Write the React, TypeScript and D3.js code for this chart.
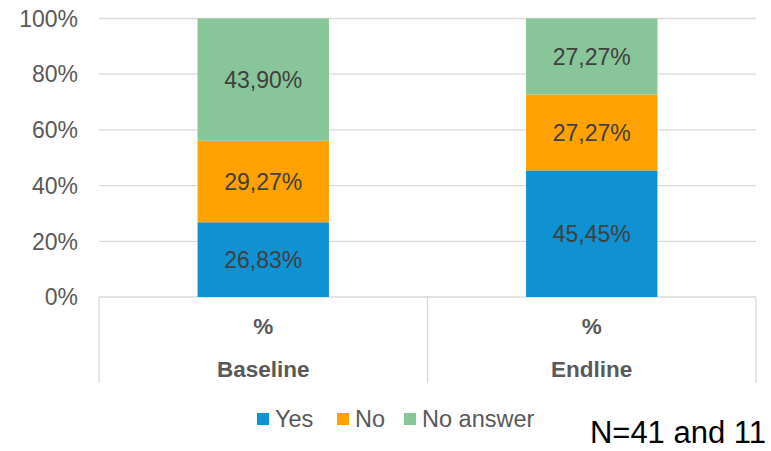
import React from "react";
import * as d3 from "d3";

const categories = ["Baseline", "Endline"];
const subLabels = ["%", "%"];
const seriesNames = ["Yes", "No", "No answer"];
const yesValues = [26.83, 45.45];
const noValues = [29.27, 27.27];
const noAnswerValues = [43.9, 27.27];
const yTicks = [0, 20, 40, 60, 80, 100];
const seriesColors = ["#0f91d2", "#ffa100", "#88c598"];
const footnote = "N=41 and 11";

const W = 771;
const H = 451;
const FONT = "'Liberation Sans', Arial, Helvetica, sans-serif";

export default function App() {
  const left = 99;
  const right = 756;
  const top = 18.5;
  const bottom = 297;

  const x = d3.scaleBand<string>().domain(categories).range([left, right]).padding(0);
  const y = d3.scaleLinear().domain([0, 100]).range([bottom, top]);
  const barW = x.bandwidth() * 0.4;

  const rows = categories.map((c, i) => ({
    cat: c,
    Yes: yesValues[i],
    No: noValues[i],
    "No answer": noAnswerValues[i],
  }));
  const stacked = d3.stack<any>().keys(seriesNames)(rows);

  const fmt = (v: number) => v.toFixed(2).replace(".", ",") + "%";

  // legend layout
  const legendItems = [
    { name: "Yes", x: 257 },
    { name: "No", x: 337 },
    { name: "No answer", x: 404 },
  ];

  return (
    <svg width={W} height={H} style={{ display: "block", position: "absolute", left: 0, top: 0 }}>
      <rect width={W} height={H} fill="#ffffff" />
      {/* gridlines */}
      {yTicks.map((t) => (
        <line
          key={"g" + t}
          x1={left}
          x2={right}
          y1={y(t)}
          y2={y(t)}
          stroke="#d9d9d9"
          strokeWidth={1.3}
        />
      ))}
      {/* category separators */}
      {[left, (x(categories[1]) as number), right].map((sx, i) => (
        <line key={"s" + i} x1={sx} x2={sx} y1={bottom} y2={383} stroke="#d9d9d9" strokeWidth={1.3} />
      ))}
      {/* y tick labels */}
      {yTicks.map((t) => (
        <text
          key={"t" + t}
          x={78}
          y={y(t)}
          dy="0.36em"
          textAnchor="end"
          fontFamily={FONT}
          fontSize={23}
          fill="#595959"
        >
          {t + "%"}
        </text>
      ))}
      {/* stacked bars */}
      {stacked.map((layer, si) => (
        <g key={layer.key}>
          {layer.map((d, i) => {
            const bx = (x(categories[i]) as number) + (x.bandwidth() - barW) / 2;
            const y0 = y(d[0]);
            const y1 = y(d[1]);
            return (
              <g key={i}>
                <rect x={bx} y={y1} width={barW} height={y0 - y1} fill={seriesColors[si]} />
                <text
                  x={bx + barW / 2}
                  y={(y0 + y1) / 2}
                  dy="0.36em"
                  textAnchor="middle"
                  fontFamily={FONT}
                  fontSize={23}
                  fill="#404040"
                >
                  {fmt(d[1] - d[0])}
                </text>
              </g>
            );
          })}
        </g>
      ))}
      {/* category labels */}
      {categories.map((c, i) => {
        const cx = (x(c) as number) + x.bandwidth() / 2;
        return (
          <g key={"c" + c}>
            <text x={cx} y={334} textAnchor="middle" fontFamily={FONT} fontSize={22.5} fontWeight="bold" fill="#595959">
              {subLabels[i]}
            </text>
            <text x={cx} y={377} textAnchor="middle" fontFamily={FONT} fontSize={22.5} fontWeight="bold" fill="#595959">
              {c}
            </text>
          </g>
        );
      })}
      {/* legend */}
      {legendItems.map((it, i) => (
        <g key={"l" + it.name}>
          <rect x={it.x} y={413} width={12} height={12} fill={seriesColors[i]} />
          <text x={it.x + 18} y={419} dy="0.36em" fontFamily={FONT} fontSize={23.5} fill="#595959">
            {it.name}
          </text>
        </g>
      ))}
      <text x={766} y={443} textAnchor="end" fontFamily={FONT} fontSize={31} fill="#000000">
        {footnote}
      </text>
    </svg>
  );
}
